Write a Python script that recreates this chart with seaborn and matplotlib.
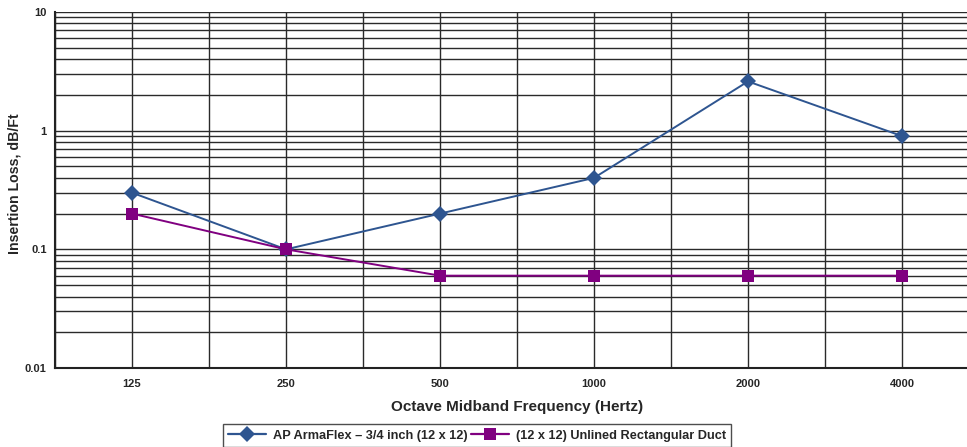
import numpy as np
import pandas as pd
import matplotlib
matplotlib.use("Agg")
import matplotlib.pyplot as plt
import seaborn as sns
from matplotlib.ticker import LogLocator, NullFormatter, FixedLocator

# ── data ────────────────────────────────────────────
freqs = ["125", "250", "500", "1000", "2000", "4000"]
armaflex = [0.3, 0.1, 0.2, 0.4, 2.6, 0.9]
unlined = [0.2, 0.1, 0.06, 0.06, 0.06, 0.06]
series_names = ["AP ArmaFlex \u2013 3/4 inch (12 x 12)", "(12 x 12) Unlined Rectangular Duct"]
y_ticks = [0.01, 0.1, 1, 10]
y_ticklabels = ["0.01", "0.1", "1", "10"]

df = pd.DataFrame({
    "pos": list(range(len(freqs))) * 2,
    "value": armaflex + unlined,
    "series": [series_names[0]] * len(freqs) + [series_names[1]] * len(freqs),
})

sns.set_style("white")
plt.rcParams["font.family"] = ["Liberation Sans", "DejaVu Sans"]

fig = plt.figure(figsize=(9.67, 4.47), dpi=100)
ax = fig.add_axes([55 / 967, 79 / 447, 924 / 967, 356 / 447])

palette = {series_names[0]: "#2E5590", series_names[1]: "#800080"}
sns.lineplot(data=df, x="pos", y="value", hue="series", style="series",
             palette=palette, markers={series_names[0]: "D", series_names[1]: "s"},
             dashes=False, markersize=8, linewidth=1.4, markeredgewidth=0,
             ax=ax, legend=False)

ax.set_yscale("log")
ax.set_ylim(0.01, 10)
ax.set_xlim(-0.5, 5.5)

ax.set_yticks(y_ticks)
ax.set_yticklabels(y_ticklabels, fontsize=8, fontweight="bold")
ax.yaxis.set_minor_locator(LogLocator(base=10, subs=np.arange(2, 10)))
ax.yaxis.set_minor_formatter(NullFormatter())

ax.set_xticks(range(len(freqs)))
ax.set_xticklabels(freqs, fontsize=8, fontweight="bold")
ax.xaxis.set_minor_locator(FixedLocator(np.arange(-0.5, 6.0, 1.0)))

ax.tick_params(axis="y", which="both", length=0, pad=6)
ax.tick_params(axis="x", which="both", length=0, pad=8)
ax.grid(True, which="both", color="#2a2a2a", linewidth=1.0)
ax.set_axisbelow(True)

for side in ["top", "right"]:
    ax.spines[side].set_visible(False)
for side in ["left", "bottom"]:
    ax.spines[side].set_color("#222222")
    ax.spines[side].set_linewidth(1.5)

ax.set_xlabel("Octave Midband Frequency (Hertz)", fontsize=11, fontweight="bold", labelpad=8)
ax.set_ylabel("Insertion Loss, dB/Ft", fontsize=10.2, fontweight="bold")
ax.yaxis.set_label_coords(-33 / 924, 0.517)

handles = [
    plt.Line2D([], [], color=palette[series_names[0]], marker="D", markersize=8,
               markeredgewidth=0, linewidth=1.6),
    plt.Line2D([], [], color=palette[series_names[1]], marker="s", markersize=8,
               markeredgewidth=0, linewidth=1.6),
]
leg = fig.legend(handles, series_names, loc="upper center", ncol=2,
                 bbox_to_anchor=(477 / 967, 1 - 418 / 447), frameon=True,
                 fancybox=False, edgecolor="#222222",
                 prop={"weight": "bold", "size": 9.2},
                 handlelength=3.0, columnspacing=0.3, handletextpad=0.5, borderpad=0.4)
leg.get_frame().set_linewidth(1.0)

fig.savefig("out.png", dpi=100, facecolor="white")
